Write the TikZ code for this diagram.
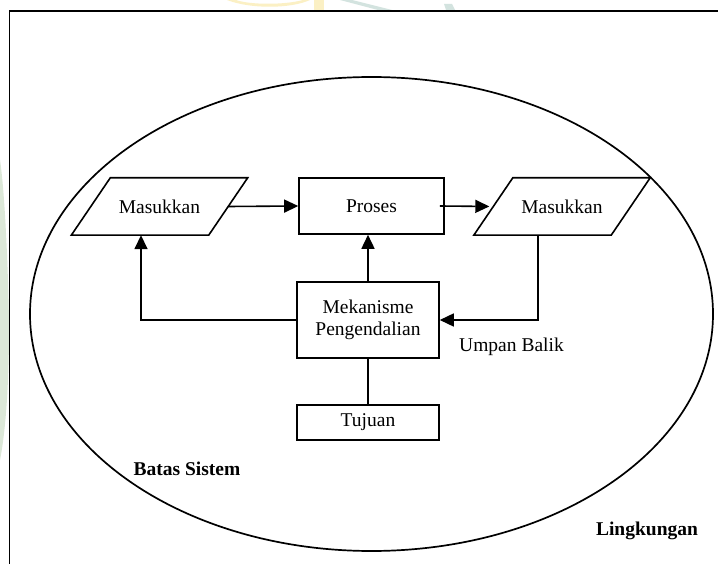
\documentclass[tikz,border=0pt]{standalone}
\usepackage{fontspec}
\setmainfont{Liberation Serif}
\usetikzlibrary{arrows.meta,calc}

\definecolor{wmgreen}{HTML}{DCE8D8}
\definecolor{wmyellow}{HTML}{FBF0C4}
\definecolor{wmteal}{HTML}{D3E3DF}

\tikzset{
  line/.style={line width=1.6pt, draw=black},
  arr/.style={line, -{Triangle[length=14pt,width=13pt]}},
  txt/.style={font=\fontsize{19.5pt}{22.5pt}\selectfont, align=center},
  boxnode/.style={line, txt, rectangle, inner sep=0pt},
  iobox/.style={txt, rectangle, minimum width=137pt, minimum height=57pt, inner sep=0pt},
  labelnode/.style={txt, inner sep=0pt, anchor=center},
  slant/.store in=\slantoff, slant=19.5pt
}

% parallelogram outline round a named node
\newcommand{\drawio}[1]{%
  \draw[line, line join=miter]
    ([xshift=\slantoff]#1.north west) -- ([xshift=\slantoff]#1.north east)
    -- ([xshift=-\slantoff]#1.south east) -- ([xshift=-\slantoff]#1.south west) -- cycle;}

\begin{document}
\begin{tikzpicture}[x=1pt,y=-1pt]
  \useasboundingbox (0,0) rectangle (718,564);
  \fill[white] (0,0) rectangle (718,564);

  % faint background marks
  \fill[wmgreen] (0,160) .. controls (6,200) and (9,300) .. (9,330)
    .. controls (9,380) and (6,430) .. (0,460) -- cycle;
  \fill[wmyellow] (227,0) .. controls (250,9) and (290,9) .. (310,0) -- (303,0)
    .. controls (285,5) and (250,5) .. (236,0) -- cycle;
  \fill[wmyellow] (314,0) rectangle (324,10);
  \fill[wmteal] (340,0) -- (352,0) -- (392,10) -- (378,10) -- cycle;
  \fill[wmteal] (444,4) -- (452,4) -- (455,10) -- (446,10) -- cycle;

  % outer frame
  \draw[line] (9.5,564) -- (9.5,11) -- (718,11);

  % system boundary
  \draw[line, line width=1.7pt] (371.5,314) ellipse [x radius=341.5, y radius=237];

  % blocks
  \node[iobox] (lm) at (159.5,206.5) {Masukkan};
  \drawio{lm}
  \node[boxnode, minimum width=145pt, minimum height=56pt] (pr) at (371.5,206) {Proses};
  \node[iobox] (rm) at (562,206.5) {Masukkan};
  \drawio{rm}
  \node[boxnode, minimum width=142pt, minimum height=76pt] (mk) at (368,320) {Mekanisme\\Pengendalian};
  \node[boxnode, minimum width=142pt, minimum height=35pt] (tj) at (368,422.5) {Tujuan};

  % connectors
  \draw[arr] (lm.east) -- (pr.west);
  \draw[arr, shorten >=4pt] ([xshift=-5pt]pr.east) -- (rm.west);
  \draw[arr] (mk.north) -- (mk.north |- pr.south);
  \draw[line] (mk.south) -- (tj.north);
  \draw[arr] (mk.west) -| ([xshift=-18.5pt]lm.south);
  \draw[arr] ([xshift=-24pt]rm.south) |- (mk.east);

  % labels
  \node[labelnode] (ub) at (511.5,347) {Umpan Balik};
  \node[labelnode, font=\bfseries\fontsize{19.5pt}{22.5pt}\selectfont] (bs) at (187,469) {Batas Sistem};
  \node[labelnode, font=\bfseries\fontsize{19.5pt}{22.5pt}\selectfont] (lk) at (647,531) {Lingkungan};
\end{tikzpicture}
\end{document}
